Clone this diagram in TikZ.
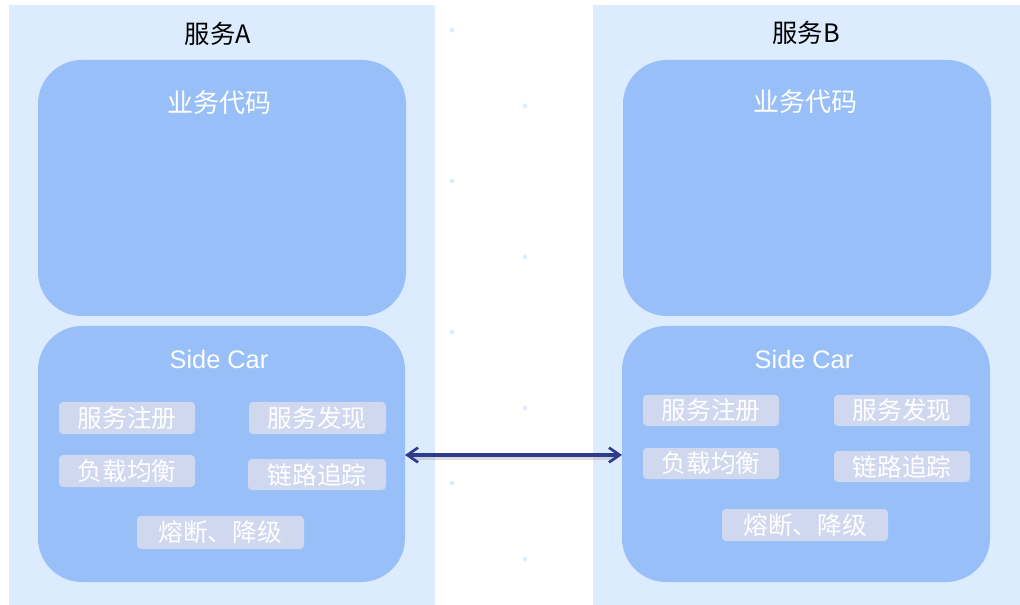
\documentclass[tikz,border=0pt]{standalone}
\usepackage{fontspec}
\setmainfont{Liberation Sans}
\newfontfamily\cjk{Noto Sans CJK SC}
\usetikzlibrary{arrows.meta}
\definecolor{panelbg}{HTML}{DCEBFD}
\definecolor{boxbg}{HTML}{99BFF8}
\definecolor{chipbg}{HTML}{D0D8F0}
\definecolor{arrowc}{HTML}{2E3A8C}
\definecolor{dotc}{HTML}{DCEBFD}
\tikzset{
  panel/.style={fill=panelbg, draw=none},
  bigbox/.style={fill=boxbg, draw=none, rounded corners=33pt},
  chip/.style={fill=chipbg, draw=none, rounded corners=3pt},
  chiptext/.style={text=white, font=\cjk\fontsize{18.5}{19}\selectfont},
  boxtitle/.style={text=white, font=\cjk\fontsize{19.5}{20}\selectfont},
  sctitle/.style={text=white, font=\fontsize{19}{20}\selectfont},
  ptitle/.style={text=black, font=\cjk\fontsize{19}{20}\selectfont},
  link/.style={draw=arrowc, line width=2.3pt, {Straight Barb[length=8pt,width=11pt,line width=2pt]}-{Straight Barb[length=8pt,width=11pt,line width=2pt]}},
  dot/.style={circle, fill=dotc, draw=none, minimum size=3.5pt, inner sep=0pt}
}
\begin{document}
\begin{tikzpicture}[x=0.75pt,y=-0.75pt]
\useasboundingbox (0,0) rectangle (1020,605);
\fill[white] (0,0) rectangle (1020,605);
% panels
\fill[panel] (9,5) rectangle (435,605);
\fill[panel] (593,5) rectangle (1020,605);
\node[ptitle] (tA) at (218,34) {服务A};
\node[ptitle] (tB) at (806,33) {服务B};
% dots
\foreach \y [count=\i] in {30,181,332,483} \node[dot] (dl\i) at (452,\y) {};
\foreach \y [count=\i] in {106,257,408,559} \node[dot] (dr\i) at (525,\y) {};
% left service
\fill[bigbox] (38,60) rectangle (406,316);
\node[boxtitle] (bcA) at (219,103) {业务代码};
\fill[bigbox] (38,326) rectangle (405,582);
\coordinate (scAr) at (405,455);
\node[sctitle] (scA) at (219,359) {Side Car};
\fill[chip] (59,402) rectangle (195,434);
\node[chiptext] (a1) at (127,418) {服务注册};
\fill[chip] (249,402) rectangle (386,434);
\node[chiptext] (a2) at (317,418) {服务发现};
\fill[chip] (59,455) rectangle (195,487);
\node[chiptext] (a3) at (127,471) {负载均衡};
\fill[chip] (248,459) rectangle (386,490);
\node[chiptext] (a4) at (317,475) {链路追踪};
\fill[chip] (137,516) rectangle (304,549);
\node[chiptext] (a5) at (220,532) {熔断、降级};
% right service
\fill[bigbox] (623,60) rectangle (991,316);
\node[boxtitle] (bcB) at (805,102) {业务代码};
\fill[bigbox] (622,326) rectangle (990,582);
\coordinate (scBl) at (622,455);
\node[sctitle] (scB) at (804,359) {Side Car};
\fill[chip] (643,395) rectangle (779,426);
\node[chiptext] (b1) at (711,410) {服务注册};
\fill[chip] (834,395) rectangle (970,426);
\node[chiptext] (b2) at (902,410) {服务发现};
\fill[chip] (643,448) rectangle (779,479);
\node[chiptext] (b3) at (711,463) {负载均衡};
\fill[chip] (834,451) rectangle (970,482);
\node[chiptext] (b4) at (902,467) {链路追踪};
\fill[chip] (722,509) rectangle (888,541);
\node[chiptext] (b5) at (805,525) {熔断、降级};
% connector with soft shadow
\draw[black!30, line width=2.5pt, opacity=0.45] ([shift={(6,3)}]scAr) -- ([shift={(-6,3)}]scBl);
\draw[link] (scAr) -- (scBl);
\end{tikzpicture}
\end{document}
